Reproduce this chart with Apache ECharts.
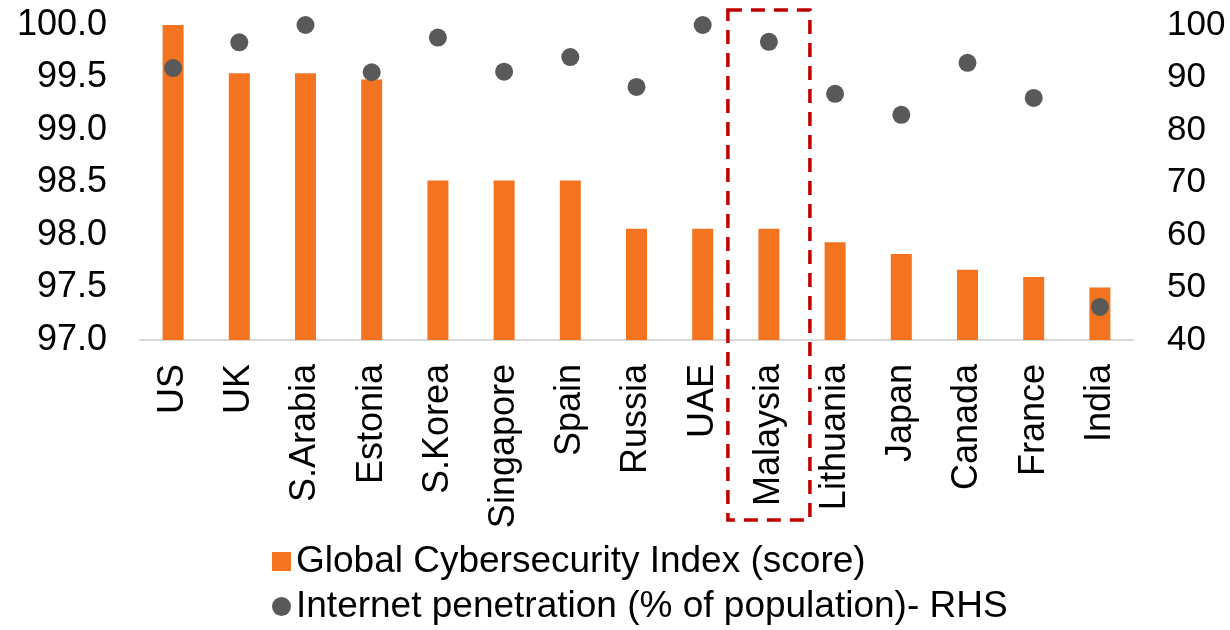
<!DOCTYPE html>
<html>
<head>
<meta charset="utf-8">
<script src="https://cdn.jsdelivr.net/npm/echarts@6/dist/echarts.min.js"></script>
<style>
  html, body { margin: 0; padding: 0; background: #fff; }
  #chart { width: 1230px; height: 630px; }
</style>
</head>
<body>
<div id="chart"></div>
<script>
// data
const countries = ['US', 'UK', 'S.Arabia', 'Estonia', 'S.Korea', 'Singapore', 'Spain',
  'Russia', 'UAE', 'Malaysia', 'Lithuania', 'Japan', 'Canada', 'France', 'India'];
const gciScore = [100.0, 99.54, 99.54, 99.48, 98.52, 98.52, 98.52,
  98.06, 98.06, 98.06, 97.93, 97.82, 97.67, 97.60, 97.50];
const internetPen = [91.8, 96.7, 100, 91.0, 97.6, 91.1, 93.9,
  88.2, 100, 96.8, 86.9, 82.9, 92.8, 86.1, 46.3];
const highlighted = 'Malaysia';

const FONT = '"Liberation Sans", Arial, sans-serif';
const chart = echarts.init(document.getElementById('chart'));

chart.setOption({
  backgroundColor: '#fff',
  animation: false,
  grid: { left: 140, right: 97, top: 25, bottom: 290, containLabel: false },
  legend: {
    orient: 'vertical',
    left: 267,
    top: 538,
    height: 200,
    itemWidth: 19,
    itemHeight: 19,
    itemGap: 8,
    textStyle: { fontFamily: FONT, fontSize: 37, lineHeight: 37, color: '#000', padding: [0, 0, 0, 0] },
    data: [
      { name: 'Global Cybersecurity Index (score)', icon: 'rect' },
      { name: 'Internet penetration (% of population)- RHS', icon: 'circle' }
    ]
  },
  xAxis: {
    type: 'category',
    data: countries,
    axisLine: { lineStyle: { color: '#d9d9d9', width: 2 } },
    axisTick: { show: false },
    axisLabel: { rotate: 90, margin: 24, fontFamily: FONT, fontSize: 36, color: '#000' }
  },
  yAxis: [
    {
      type: 'value', min: 97, max: 100, interval: 0.5,
      splitLine: { show: false },
      axisLine: { show: false }, axisTick: { show: false },
      axisLabel: { margin: 33, fontFamily: FONT, fontSize: 36, color: '#000',
        formatter: v => v.toFixed(1) }
    },
    {
      type: 'value', min: 40, max: 100, interval: 10,
      splitLine: { show: false },
      axisLine: { show: false }, axisTick: { show: false },
      axisLabel: { margin: 34, fontFamily: FONT, fontSize: 35, color: '#000' }
    }
  ],
  series: [
    {
      name: 'Global Cybersecurity Index (score)',
      type: 'bar',
      barWidth: 21,
      data: gciScore,
      itemStyle: { color: '#f37321' }
    },
    {
      name: 'Internet penetration (% of population)- RHS',
      type: 'scatter',
      yAxisIndex: 1,
      symbolSize: 18,
      data: internetPen,
      itemStyle: { color: '#595959', opacity: 1 }
    }
  ]
});

// dashed box round the highlighted country
const cx = chart.convertToPixel({ xAxisIndex: 0 }, highlighted);
chart.setOption({
  graphic: [{
    type: 'rect',
    shape: { x: cx - 41, y: 10, width: 82, height: 510 },
    style: { fill: 'none', stroke: '#c00000', lineWidth: 3.5, lineDash: [14, 9] },
    z: 10
  }]
});
</script>
</body>
</html>
